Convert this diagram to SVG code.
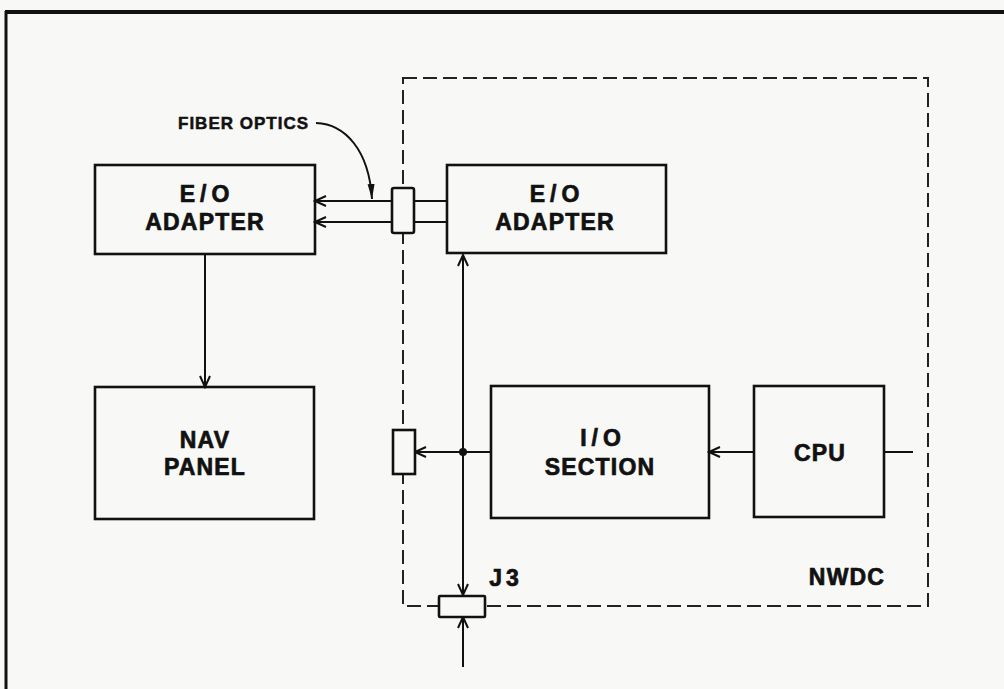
<svg xmlns="http://www.w3.org/2000/svg" width="1004" height="689" viewBox="0 0 1004 689">
<defs>
<style>
.box{fill:none;stroke:#111;stroke-width:2.6}
.conn{fill:#f8f8f6;stroke:#111;stroke-width:2.6}
.ln{fill:none;stroke:#111;stroke-width:2}
.dash{fill:none;stroke:#222;stroke-width:2;stroke-dasharray:14 6}
.t{font-family:"Liberation Sans",Arial,sans-serif;font-weight:bold;font-size:23px;fill:#111;stroke:#111;stroke-width:0.7px;text-anchor:middle;letter-spacing:1.2px}
.s{font-family:"Liberation Sans",Arial,sans-serif;font-weight:bold;font-size:17px;fill:#111;stroke:#111;stroke-width:0.5px;letter-spacing:1px}
</style>
<marker id="a" markerUnits="userSpaceOnUse" markerWidth="14" markerHeight="14" viewBox="0 0 14 14" refX="12" refY="7" orient="auto-start-reverse">
<path d="M1,2 L12,7 L1,12" fill="none" stroke="#111" stroke-width="2"/>
</marker>
<marker id="f" markerUnits="userSpaceOnUse" markerWidth="16" markerHeight="10" viewBox="0 0 16 10" refX="15" refY="5" orient="auto">
<path d="M0,1.5 L15,5 L0,8.5 Z" fill="#111"/>
</marker>
</defs>
<rect width="1004" height="689" fill="#f8f8f6"/>
<g id="frame">
<line x1="5" y1="12" x2="1004" y2="12" stroke="#111" stroke-width="4"/>
<line x1="6" y1="11" x2="6" y2="689" stroke="#111" stroke-width="3"/>
</g>
<g id="nwdc">
<rect x="403" y="78" width="525" height="528" class="dash"/>
<text x="847" y="585" class="t">NWDC</text>
</g>
<g id="connectors">
<line x1="392" y1="201" x2="315" y2="201" class="ln" marker-end="url(#a)"/>
<line x1="392" y1="222" x2="315" y2="222" class="ln" marker-end="url(#a)"/>
<line x1="414" y1="201" x2="447" y2="201" class="ln"/>
<line x1="414" y1="222" x2="447" y2="222" class="ln"/>
<path d="M316,123 C345,124 369,150 372,199" class="ln" marker-end="url(#f)"/>
<line x1="205" y1="254" x2="205" y2="387" class="ln" marker-end="url(#a)"/>
<line x1="463" y1="255" x2="463" y2="595" class="ln" marker-start="url(#a)" marker-end="url(#a)"/>
<line x1="490" y1="452" x2="415" y2="452" class="ln" marker-end="url(#a)"/>
<circle cx="463" cy="452" r="4" fill="#111"/>
<line x1="754" y1="452" x2="709" y2="452" class="ln" marker-end="url(#a)"/>
<line x1="884" y1="452" x2="913" y2="452" class="ln"/>
<line x1="463" y1="667" x2="463" y2="617" class="ln" marker-end="url(#a)"/>
</g>
<g id="label-fiber">
<text x="178" y="129" class="s">FIBER OPTICS</text>
</g>
<g id="fiber-conn">
<rect x="392" y="188" width="22" height="45" rx="2" class="conn"/>
</g>
<g id="side-conn">
<rect x="393" y="430" width="22" height="44" class="conn"/>
</g>
<g id="j3">
<rect x="439" y="596" width="46" height="21" rx="1" class="conn"/>
<text x="506" y="586" class="t" style="letter-spacing:4px">J3</text>
</g>
<g id="eo-left">
<rect x="95" y="165" width="220" height="89" class="box"/>
<text x="207" y="202" class="t" style="letter-spacing:5px">E/O</text>
<text x="205" y="230" class="t">ADAPTER</text>
</g>
<g id="eo-right">
<rect x="447" y="165" width="219" height="88" class="box"/>
<text x="557" y="202" class="t" style="letter-spacing:5px">E/O</text>
<text x="555" y="230" class="t">ADAPTER</text>
</g>
<g id="nav">
<rect x="95" y="387" width="219" height="132" class="box"/>
<text x="205" y="448" class="t">NAV</text>
<text x="205" y="475" class="t">PANEL</text>
</g>
<g id="io">
<rect x="491" y="386" width="218" height="132" class="box"/>
<text x="603" y="446" class="t" style="letter-spacing:5px">I/O</text>
<text x="600" y="475" class="t">SECTION</text>
</g>
<g id="cpu">
<rect x="754" y="386" width="130" height="131" class="box"/>
<text x="820" y="461" class="t">CPU</text>
</g>
</svg>
